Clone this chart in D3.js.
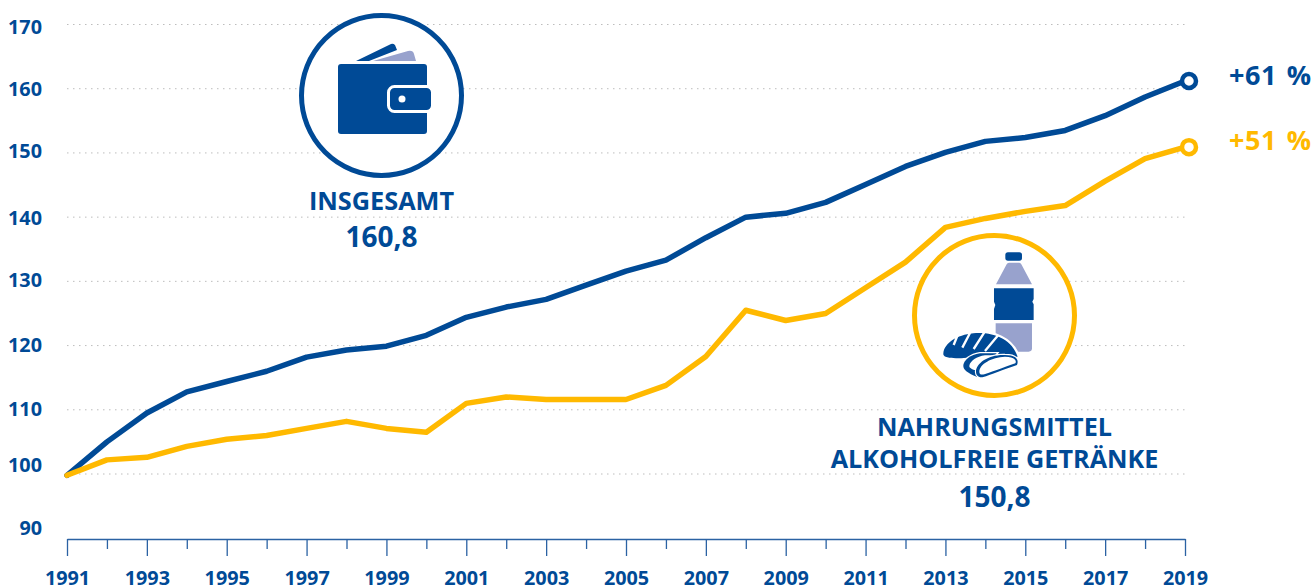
<!DOCTYPE html>
<html>
<head>
<meta charset="utf-8">
<script src="https://cdn.jsdelivr.net/npm/d3@7"></script>
<style>
  html, body { margin: 0; padding: 0; background: #fff; }
  svg { display: block; }
  text { font-family: "Open Sans", sans-serif; font-weight: 700; }
</style>
</head>
<body>
<div id="chart"></div>
<script>
const years = d3.range(1991, 2020);
const gesamt = [99.8, 105, 109.5, 112.8, 114.4, 116, 118.2, 119.3, 119.9, 121.6, 124.4, 126, 127.2, 129.4, 131.6, 133.3, 136.8, 140, 140.6, 142.3, 145.1, 147.9, 150.1, 151.8, 152.4, 153.5, 155.8, 158.7, 161.2];
const nahrung = [99.8, 102.2, 102.6, 104.3, 105.4, 106, 107.1, 108.2, 107.1, 106.5, 111, 112, 111.6, 111.6, 111.6, 113.8, 118.3, 125.5, 123.9, 125, 129, 133, 138.4, 139.8, 140.9, 141.8, 145.6, 149.1, 150.9];
const yTicks = [90, 100, 110, 120, 130, 140, 150, 160, 170];
const gridTicks = [100, 110, 120, 130, 140, 150, 160, 170];

const BLUE = "#004a96", YELLOW = "#ffb900", LIGHT = "#98a2cd";
const width = 1311, height = 587;

const svg = d3.select("#chart").append("svg")
    .attr("width", width)
    .attr("height", height);

const x = d3.scaleLinear().domain([1991, 2019]).range([67, 1185]);
const y = d3.scaleLinear().domain([100, 170]).range([474, 24.5]);

// dotted grid
svg.append("g").selectAll("line")
    .data(gridTicks)
    .enter()
    .append("line")
    .attr("x1", 67)
    .attr("x2", 1185)
    .attr("y1", d => y(d))
    .attr("y2", d => y(d))
    .attr("stroke", "#bdbdbd")
    .attr("stroke-width", 1)
    .attr("stroke-dasharray", "1.5 4.5");

// x axis
const xAxis = svg.append("g")
    .attr("transform", "translate(0,539)")
    .call(d3.axisBottom(x)
        .tickValues(years)
        .tickSizeInner(17)
        .tickSizeOuter(0)
        .tickFormat(d => (d % 2 === 1 ? d : "")));
xAxis.select(".domain").attr("stroke", "#2b62a3").attr("stroke-width", 1.3);
xAxis.selectAll(".tick line")
    .attr("stroke", "#2b62a3")
    .attr("stroke-width", 1.3)
    .attr("y2", d => (d % 2 === 1 ? 17 : 10));
xAxis.selectAll(".tick text")
    .attr("y", 32)
    .attr("dy", "14")
    .attr("fill", BLUE)
    .style("font-size", "19.8px")
    .style("font-family", "'Open Sans', sans-serif");

// y axis, labels do not sit exactly on their grid line
const yLabelShift = {170: 2, 150: -2, 130: -1.5, 120: -1.5, 110: -1, 100: -10, 90: -11};
const yAxis = svg.append("g")
    .attr("transform", "translate(42,0)")
    .call(d3.axisLeft(y).tickValues(yTicks).tickSize(0).tickPadding(0));
yAxis.select(".domain").remove();
yAxis.selectAll(".tick text")
    .attr("fill", BLUE)
    .attr("dy", d => (yLabelShift[d] || 0) + 7)
    .style("font-size", "19.8px")
    .style("font-family", "'Open Sans', sans-serif");

// lines
const line = d3.line()
    .x((d, i) => x(years[i]))
    .y(d => y(d));

svg.append("path")
    .attr("d", line(gesamt))
    .attr("fill", "none")
    .attr("stroke", BLUE)
    .attr("stroke-width", 5.5)
    .attr("stroke-linecap", "round")
    .attr("stroke-linejoin", "round");
svg.append("path")
    .attr("d", line(nahrung))
    .attr("fill", "none")
    .attr("stroke", YELLOW)
    .attr("stroke-width", 5.5)
    .attr("stroke-linecap", "round")
    .attr("stroke-linejoin", "round");

// end markers
[[gesamt, BLUE], [nahrung, YELLOW]].forEach(([vals, col]) => {
    svg.append("circle")
        .attr("cx", x(2019) + 4)
        .attr("cy", y(vals[vals.length - 1]))
        .attr("r", 7)
        .attr("fill", "#fff")
        .attr("stroke", col)
        .attr("stroke-width", 4.5);
});

function label(txt, px, py, size, col, anchor) {
    return svg.append("text")
        .attr("x", px)
        .attr("y", py)
        .attr("text-anchor", anchor || "middle")
        .attr("fill", col)
        .style("font-size", size + "px")
        .text(txt);
}

label("+61 %", 1229, 85, 27, BLUE, "start").style("word-spacing", "2px").style("letter-spacing", "0.6px");
label("+51 %", 1229, 150, 27, YELLOW, "start").style("word-spacing", "2px").style("letter-spacing", "0.6px");
label("INSGESAMT", 381.5, 210, 25.3, BLUE);
label("160,8", 381.5, 247, 28, BLUE);
label("NAHRUNGSMITTEL", 994.5, 436, 25.2, BLUE);
label("ALKOHOLFREIE GETRÄNKE", 994.5, 467.5, 25.2, BLUE);
label("150,8", 994.5, 506.5, 28, BLUE);

// wallet icon
const wallet = svg.append("g");
wallet.append("circle").attr("cx", 381.5).attr("cy", 95.5).attr("r", 80)
    .attr("fill", "#fff").attr("stroke", BLUE).attr("stroke-width", 5);
wallet.append("path").attr("d", "M356,61 L391,44 Q393,43 395,45 L397,50 L369,61 Z").attr("fill", BLUE);
wallet.append("path").attr("d", "M373,61 L408,51 Q413,50 414,54 L416,61 Z").attr("fill", LIGHT);
wallet.append("rect").attr("x", 338).attr("y", 64).attr("width", 89).attr("height", 70).attr("rx", 3).attr("fill", BLUE);
wallet.append("rect").attr("x", 388.5).attr("y", 86.5).attr("width", 44).attr("height", 25).attr("rx", 6)
    .attr("fill", BLUE).attr("stroke", "#fff").attr("stroke-width", 3);
wallet.append("circle").attr("cx", 402).attr("cy", 99).attr("r", 3.5).attr("fill", "#fff");

// bottle icon, coordinates from the 3x crop
const food = svg.append("g");
food.append("circle").attr("cx", 994.5).attr("cy", 315.5).attr("r", 80)
    .attr("fill", "#fff").attr("stroke", YELLOW).attr("stroke-width", 5);
const ic = food.append("g").attr("transform", "translate(900,225) scale(0.3333)");
ic.append("rect").attr("x", 316).attr("y", 82).attr("width", 50).attr("height", 25).attr("rx", 8).attr("fill", BLUE);
ic.append("path").attr("d", "M327,113 L358,113 Q362,113 364,118 L396,178 L288,178 L320,118 Q322,113 327,113 Z").attr("fill", LIGHT);
ic.append("path").attr("d", "M282,190 L401,190 L401,222 L397,230 L401,238 L401,285 L282,285 L282,252 L286,240 L282,230 Z").attr("fill", BLUE);
ic.append("path").attr("d", "M287,295 L396,295 L396,370 Q396,380 386,380 L287,380 Z").attr("fill", LIGHT);

// bread, its own crop
const bread = food.append("g").attr("transform", "translate(935,325) scale(0.3333)");
bread.append("path")
    .attr("d", "M25,85 C28,55 65,30 115,25 C175,20 230,42 248,95 L150,100 L95,98 C55,102 22,100 25,85 Z")
    .attr("fill", BLUE).attr("stroke", "#fff").attr("stroke-width", 14).attr("paint-order", "stroke");
bread.append("path")
    .attr("d", "M68,30 L56,60 M105,24 L82,68 M148,22 L116,72 M190,30 L150,78")
    .attr("stroke", "#fff").attr("stroke-width", 7).attr("fill", "none");
bread.append("path")
    .attr("d", "M85,120 C88,105 105,90 135,85 L185,85 L125,155 C100,145 83,135 85,120 Z")
    .attr("fill", BLUE).attr("stroke", "#fff").attr("stroke-width", 8).attr("paint-order", "stroke");
bread.append("path")
    .attr("d", "M103,122 C106,108 125,94 150,91 L180,91 C150,100 130,118 122,136 C110,132 102,128 103,122 Z")
    .attr("fill", "#fff");
bread.append("path")
    .attr("d", "M123,140 C123,115 160,88 210,90 C245,90 252,105 246,120 C200,136 165,150 145,156 C130,159 123,150 123,140 Z")
    .attr("fill", BLUE).attr("stroke", "#fff").attr("stroke-width", 7).attr("paint-order", "stroke");
bread.append("path")
    .attr("d", "M133,140 C133,118 170,96 210,95 C240,95 246,108 241,115 C200,130 165,143 148,148 C138,150 133,148 133,140 Z")
    .attr("fill", "#fff");
</script>
</body>
</html>
